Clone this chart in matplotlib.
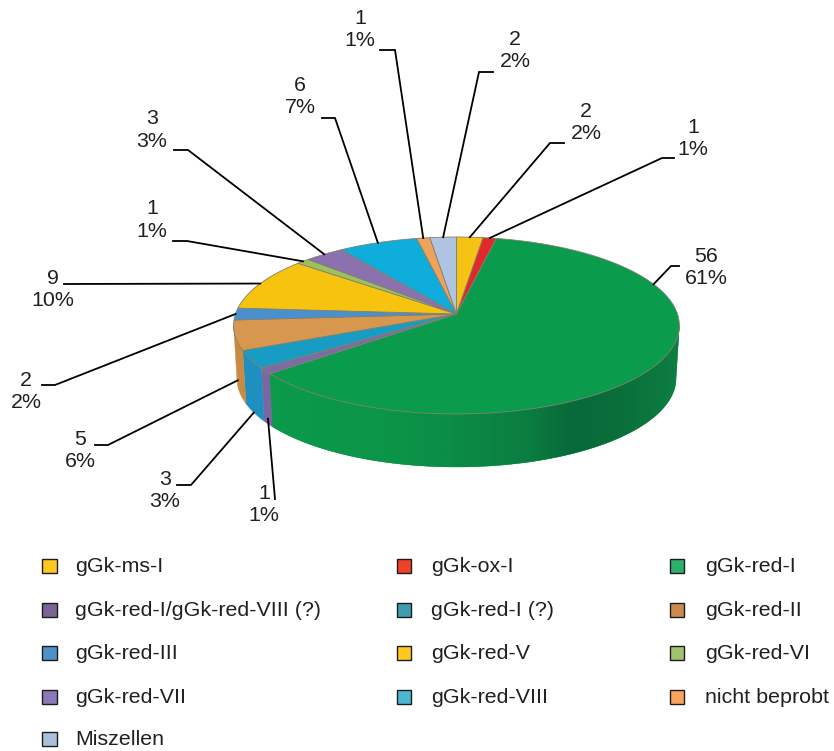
"""Perspective pie of gGk groups with leader lines and a three column legend"""

import numpy as np
import matplotlib
matplotlib.use('Agg')
import matplotlib.pyplot as plt
from matplotlib.colors import LinearSegmentedColormap
from matplotlib.patches import Polygon, Rectangle

plt.rcParams['font.family'] = ['Liberation Sans', 'DejaVu Sans']

#data, clockwise from the top of the pie
names = ['gGk-ms-I', 'gGk-ox-I', 'gGk-red-I', 'gGk-red-I/gGk-red-VIII (?)', 'gGk-red-I (?)',
         'gGk-red-II', 'gGk-red-III', 'gGk-red-V', 'gGk-red-VI', 'gGk-red-VII',
         'gGk-red-VIII', 'nicht beprobt', 'Miszellen']
counts = [2, 1, 56, 1, 3, 5, 2, 9, 1, 3, 6, 1, 2]
percents = [2, 1, 61, 1, 3, 6, 2, 10, 1, 3, 7, 1, 2]

#colours
top_colors = ['#f7c312', '#e3282c', '#0b9b4c', '#7d6ba3', '#189cc4', '#d8974f', '#4a90cf',
              '#f6c30e', '#9cc25e', '#8b72ae', '#0eaddb', '#efa25a', '#aec4e2']
side_colors = ['#e0b010', '#c82024', '#0b9048', '#7a66a0', '#1f8fbf', '#c98a42', '#4080b8',
               '#d8ac10', '#88aa50', '#7a64a0', '#0c98c0', '#d89050', '#98acc8']
legend_colors = ['#ffc820', '#f04028', '#2fb06a', '#7a6498', '#3e9eb0', '#cc8a4c', '#5090c8',
                 '#ffc820', '#9fc26e', '#8c78b4', '#4ab8d0', '#f8a45c', '#a8c0dc']

#pie geometry in pixels
tip_x, tip_y = 456.5, 314
a, b, k = 221, 87, 0.13
depth = 53
bottom_scale = 0.985

#label centres and the leader line bend + end next to the label
label_pos = [(586, 122.5), (693, 138.5), (706, 267.5), (264, 504.5), (165, 490.5), (80, 450.5), (26, 391.5),
             (53, 289.5), (152, 220), (152, 130), (300, 96.5), (360, 29.5), (515, 50.5)]
leader_pts = [[(550, 143), (564, 143)], [(662, 158), (674, 158)], [(671, 266), (679, 266)],
              [(275, 499)], [(191, 485), (177, 485)], [(108, 445), (95, 445)],
              [(55, 385), (42, 385)], [(64, 284)], [(187, 241), (173, 241)],
              [(188, 150), (174, 150)], [(335, 118), (322, 118)], [(395, 50), (380, 50)],
              [(479, 72), (493, 72)]]
#how far down the side wall each leader starts
leader_drop = [0, 0, 0, 0.9, 1, 0.85, 0, 0, 0, 0, 0, 0, 0]


def rim(theta, drop=0.0):
    #projected rim point, theta in degrees clockwise from the top
    t = np.radians(theta)
    w = 1 + k*np.cos(t)
    s = 1 + (bottom_scale - 1)*drop
    return tip_x + s*a*np.sin(t)/w, tip_y - b*np.cos(t)/w + depth*drop


fig = plt.figure(figsize=(8.34, 7.51), dpi=100)
ax = fig.add_axes([0, 0, 1, 1])

edges = np.concatenate([[0], np.cumsum(counts)])/sum(counts)*360
side_start, side_end = 97.5, 262.5

#green side wall shading, dark patch towards the right
green_cmap = LinearSegmentedColormap.from_list('side', [(0, '#0b9a4b'), (0.3, '#0b9549'), (0.45, '#0b8d46'),
                                                        (0.64, '#0a7d40'), (0.74, '#08693a'),
                                                        (0.86, '#0a6f3b'), (1, '#0e7f42')])

#side wall
for i in range(len(counts)):
    t0, t1 = max(edges[i], side_start), min(edges[i+1], side_end)
    if t1 <= t0:
        continue
    th = np.linspace(t0, t1, 60)
    xt, yt = rim(th)
    xb, yb = rim(th[::-1], 1)
    pts = np.column_stack([np.r_[xt, xb], np.r_[yt, yb]])
    wall = Polygon(pts, closed=True, fc=side_colors[i], ec=side_colors[i], lw=0.3, zorder=2)
    ax.add_patch(wall)
    if i == 2:
        im = ax.imshow(np.linspace(0, 1, 256).reshape(1, -1), cmap=green_cmap, aspect='auto',
                       extent=(260, 682, 480, 300), zorder=2.5)
        im.set_clip_path(wall)

ax.set_xlim(0, 834)
ax.set_ylim(751, 0)
ax.axis('off')

#top surface
for i in range(len(counts)):
    th = np.linspace(edges[i], edges[i+1], 80)
    xr, yr = rim(th)
    pts = np.column_stack([np.r_[tip_x, xr], np.r_[tip_y, yr]])
    ax.add_patch(Polygon(pts, closed=True, fc=top_colors[i], ec='#80806e', lw=0.6, zorder=3))

#leader lines, the big slice has its line away from the slice middle
mids = (edges[:-1] + edges[1:])/2
mids[2] = 69
for i in range(len(counts)):
    x0, y0 = rim(mids[i], leader_drop[i])
    px = [x0] + [p[0] for p in leader_pts[i]]
    py = [y0] + [p[1] for p in leader_pts[i]]
    ax.plot(px, py, color='black', lw=1.3, solid_joinstyle='miter', zorder=4)

#value labels
for i in range(len(counts)):
    ax.text(label_pos[i][0], label_pos[i][1], '{}\n{}%'.format(counts[i], percents[i]),
            ha='center', va='center', fontsize=15.4, color='#231f20', linespacing=1.26, zorder=5)

#legend, filled row by row
col_box = [42.5, 397, 670]
col_text = [75.5, 431.5, 705.5]
row_y = [566, 610, 653, 697, 739]
for i in range(len(names)):
    r, c = i//3, i % 3
    ax.add_patch(Rectangle((col_box[c], row_y[r] - 7.5), 14.5, 14.5, fc=legend_colors[i],
                           ec='#1c1c1c', lw=1.0, zorder=3))
    ax.text(col_text[c], row_y[r] + 0.5, names[i], ha='left', va='center', fontsize=15.4, color='#231f20')

fig.savefig('out.png', dpi=100)
